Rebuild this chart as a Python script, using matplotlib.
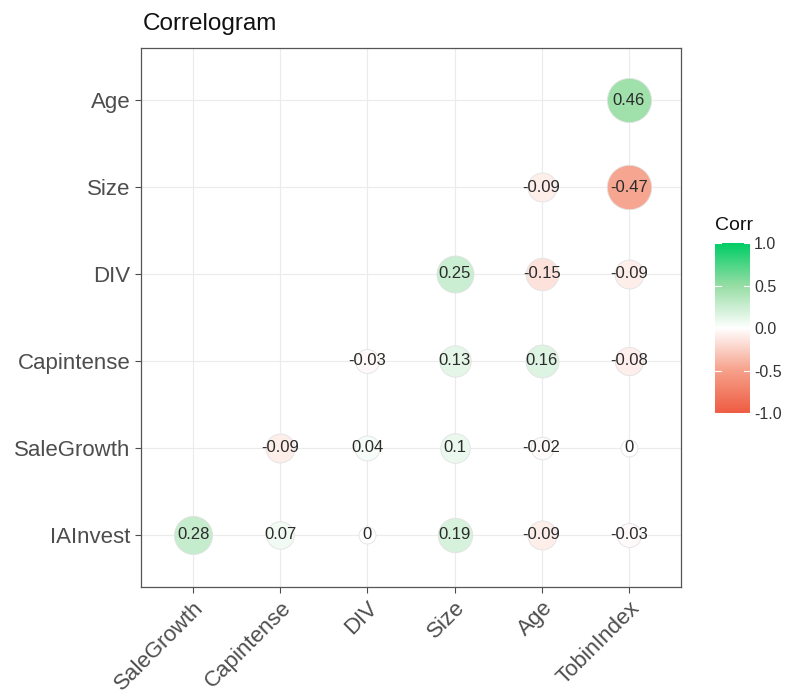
import numpy as np
import matplotlib
import matplotlib.pyplot as plt
from matplotlib.colors import LinearSegmentedColormap, Normalize

matplotlib.use('Agg')
plt.rcParams['font.family'] = ['Liberation Sans', 'DejaVu Sans']

x_vars = ['SaleGrowth', 'Capintense', 'DIV', 'Size', 'Age', 'TobinIndex']
y_vars = ['IAInvest', 'SaleGrowth', 'Capintense', 'DIV', 'Size', 'Age']

# rows bottom -> top, nan = hidden cell
r_iainvest = [0.28, 0.07, 0, 0.19, -0.09, -0.03]
r_salegrowth = [np.nan, -0.09, 0.04, 0.1, -0.02, 0]
r_capintense = [np.nan, np.nan, -0.03, 0.13, 0.16, -0.08]
r_div = [np.nan, np.nan, np.nan, 0.25, -0.15, -0.09]
r_size = [np.nan, np.nan, np.nan, np.nan, -0.09, -0.47]
r_age = [np.nan, np.nan, np.nan, np.nan, np.nan, 0.46]
rows = [r_iainvest, r_salegrowth, r_capintense, r_div, r_size, r_age]

cmap = LinearSegmentedColormap.from_list(
    'corr', ['#EE5C42', '#F6A08A', '#FFFFFF', '#96DDA4', '#00CD66'])
norm = Normalize(-1, 1)

fig = plt.figure(figsize=(7.87, 6.93), dpi=100)
ax = fig.add_axes([0.1792, 0.1530, 0.6861, 0.7778])

for i, row in enumerate(rows):
    for j, v in enumerate(row):
        if np.isnan(v):
            continue
        d = (17 + 40 * np.sqrt(abs(v))) * 0.72
        ax.scatter(j, i, s=d ** 2, color=cmap(norm(v)), edgecolors='#E2E2E2',
                   linewidths=0.6, zorder=3)
        ax.text(j, i, f'{v:g}', ha='center', va='center', fontsize=12,
                color='#2b2b2b', zorder=4)

ax.set_xlim(-0.6, 5.6)
ax.set_ylim(-0.6, 5.6)
ax.set_xticks(range(len(x_vars)))
ax.set_xticklabels(x_vars, rotation=45, ha='right', va='top', rotation_mode='anchor')
ax.set_yticks(range(len(y_vars)))
ax.set_yticklabels(y_vars)
ax.tick_params(labelsize=16, labelcolor='#4d4d4d', color='#4d4d4d', length=4, width=0.8)
ax.grid(True, color='#EBEBEB', linewidth=0.8, zorder=0)
ax.set_axisbelow(True)
for sp in ax.spines.values():
    sp.set_color('#555555')
    sp.set_linewidth(0.9)

fig.text(0.1817, 0.950, 'Correlogram', fontsize=17.5, color='#111111', va='bottom')

cax = fig.add_axes([0.9085, 0.404, 0.0445, 0.245])
cb = fig.colorbar(plt.cm.ScalarMappable(norm=norm, cmap=cmap), cax=cax,
                  ticks=[-1, -0.5, 0, 0.5, 1])
cb.outline.set_visible(False)
cb.ax.set_yticklabels(['-1.0', '-0.5', '0.0', '0.5', '1.0'])
cb.ax.tick_params(labelsize=11.5, labelcolor='#333333', length=0, pad=3)
for t in [-1, -0.5, 0, 0.5, 1]:
    cax.plot([0, 0.18], [t, t], color='white', lw=0.8, transform=cax.get_yaxis_transform())
    cax.plot([0.82, 1], [t, t], color='white', lw=0.8, transform=cax.get_yaxis_transform())
fig.text(0.9085, 0.662, 'Corr', fontsize=14, color='#111111', va='bottom')

plt.savefig('out.png', dpi=100)
